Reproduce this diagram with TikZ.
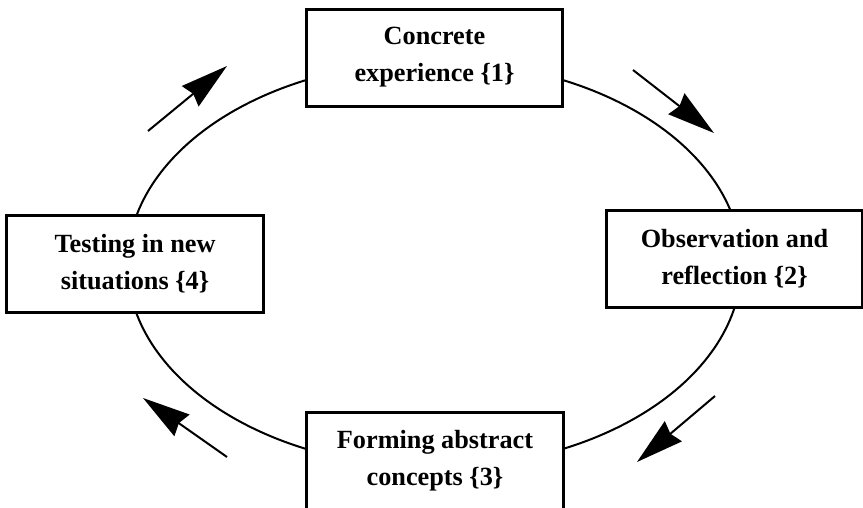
\documentclass[tikz,border=0pt]{standalone}
\usepackage{fontspec}
\setmainfont{Liberation Serif}
\usetikzlibrary{arrows.meta}

\begin{document}
\begin{tikzpicture}[x=0.4pt,y=-0.4pt,
    stage/.style={draw,line width=1.2pt,fill=white,minimum width=102.4pt,minimum height=38.8pt,
      inner sep=0pt,align=center,font=\bfseries\fontsize{10.5}{14.8}\selectfont},
    cycle arrow/.style={line width=0.8pt,-{Stealth[length=19pt,width=10.5pt,inset=1.5pt]}}]
    \useasboundingbox (0,0) rectangle (863,508);
    \draw[line width=0.8pt] (434.5,264.5) ellipse [x radius=307, y radius=203];
    \node[stage] (concrete) at (434.5,57.5) {Concrete\\experience \{1\}};
    \node[stage] (observe) at (734.5,259) {Observation and\\reflection \{2\}};
    \node[stage] (abstract) at (435,460.5) {Forming abstract\\concepts \{3\}};
    \node[stage] (testing) at (135,264) {Testing in new\\situations \{4\}};
    \coordinate (t4) at (148,131); \coordinate (h4) at (227,66);
    \coordinate (t1) at (633,70); \coordinate (h1) at (714,133);
    \coordinate (t2) at (715,396); \coordinate (h2) at (637,462);
    \coordinate (t3) at (227,457); \coordinate (h3) at (143,398);
    \draw[cycle arrow] (t1) -- (h1);
    \draw[cycle arrow] (t2) -- (h2);
    \draw[cycle arrow] (t3) -- (h3);
    \draw[cycle arrow] (t4) -- (h4);
\end{tikzpicture}
\end{document}
